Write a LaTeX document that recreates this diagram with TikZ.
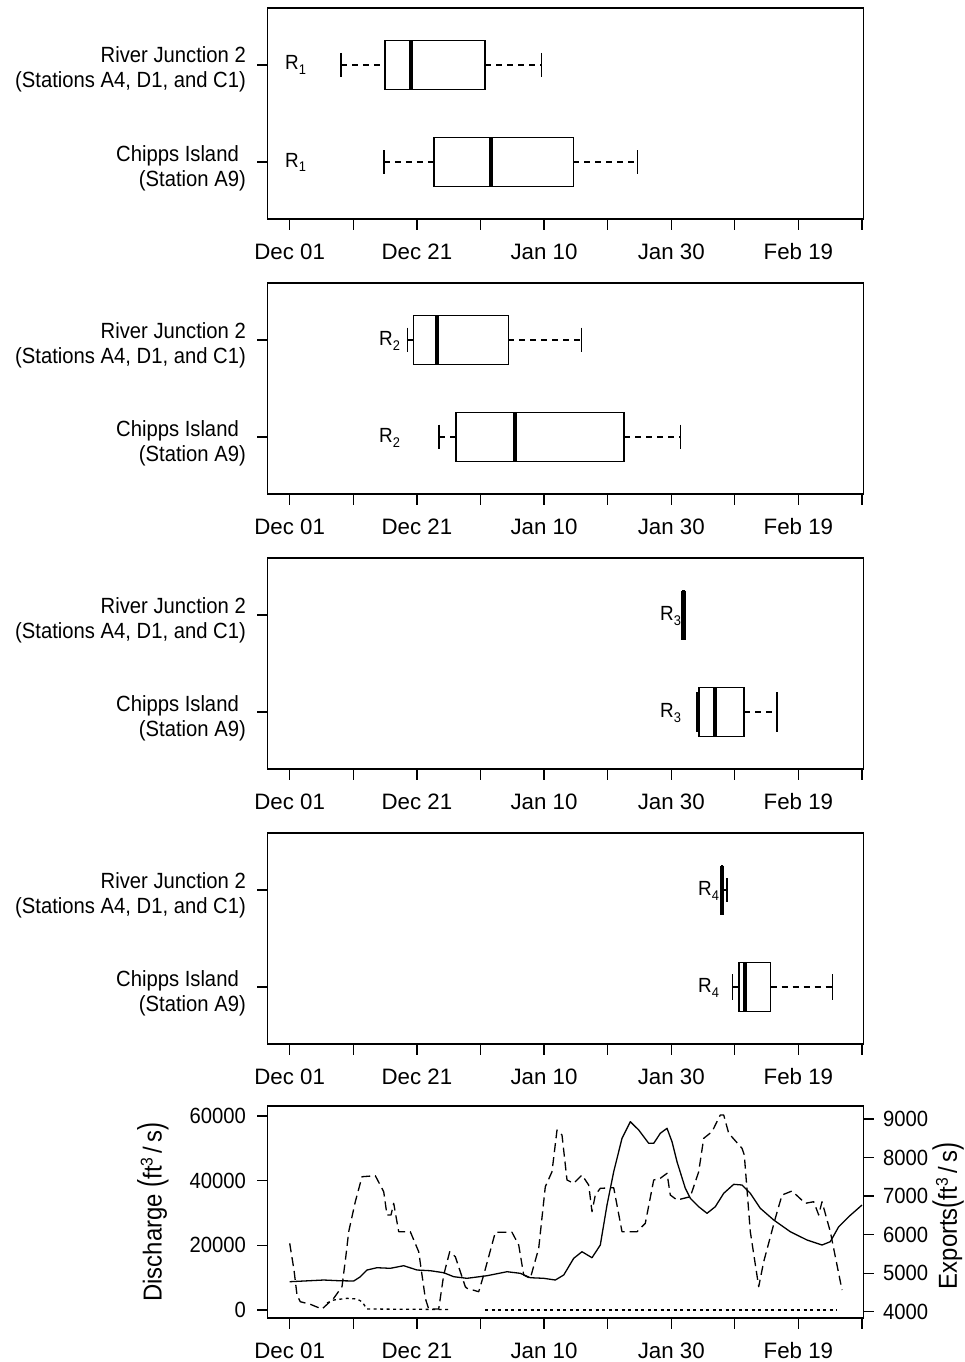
\documentclass[tikz,border=0pt]{standalone}
\usepackage{fontspec}
\setmainfont{Liberation Sans}[FakeStretch=0.92]
\newfontfamily\tickfam{Liberation Sans}
\newcommand\fsz{\fontsize{22}{26}\selectfont}
\newcommand\xtfsz{\tickfam\fontsize{22.3}{26}\selectfont}
\newcommand\labfsz{\fontsize{26}{30}\selectfont}
\newcommand\myboxplot[7]{%
  \draw[whisk] (#2,#1) -- (#3,#1);
  \draw[whisk] (#5,#1) -- (#6,#1);
  \draw[bline] (#2,#1-#7) -- (#2,#1+#7);
  \draw[bline] (#6,#1-#7) -- (#6,#1+#7);
  \draw[bline] (#3,#1-24.5) rectangle (#5,#1+24.5);
  \draw[medline] (#4,#1-24.5) -- (#4,#1+24.5);
}
\begin{document}
\begin{tikzpicture}[x=1pt,y=-1pt,
  every node/.style={inner sep=0pt,font=\fsz},
  xtick/.style={anchor=base,font=\xtfsz},
  frame/.style={line width=1.4pt},
  tickline/.style={line width=1.3pt},
  bline/.style={line width=1.4pt},
  medline/.style={line width=4.5pt},
  whisk/.style={line width=1.3pt,dash pattern=on 6pt off 5pt},
  solidcurve/.style={line width=1.3pt,line join=round},
  dashcurve/.style={line width=1.3pt,dash pattern=on 9pt off 5pt,line join=round},
  dotcurve/.style={line width=1.3pt,dash pattern=on 3pt off 3.5pt},
  rlab/.style={anchor=base west,font=\fontsize{20.5}{24}\selectfont}]
\useasboundingbox (0,0) rectangle (964,1362);
\fill[white] (0,0) rectangle (964,1362);

% ---- four box-plot panels ----
\foreach \t/\rx [count=\i] in {8/285,283/379,558/660,833/698}{
  \draw[frame] (267.5,\t) rectangle (863.5,\t+211);
  \foreach \d in {0,10,...,90}
    \draw[tickline] (289.7+6.359*\d,\t+211) -- (289.7+6.359*\d,\t+222);
  \foreach \d/\l in {0/Dec 01,20/Dec 21,40/Jan 10,60/Jan 30,80/Feb 19}
    \node[xtick] (xl-\i-\d) at (289.7+6.359*\d,\t+251) {\l};
  \draw[tickline] (257,\t+57) -- (267.5,\t+57);
  \draw[tickline] (257,\t+154) -- (267.5,\t+154);
  \node[anchor=base east] (rja-\i) at (246,\t+55) {River Junction 2};
  \node[anchor=base east] (rjb-\i) at (246,\t+80) {(Stations A4, D1, and C1)};
  \node[anchor=base east] (cia-\i) at (239,\t+153) {Chipps Island};
  \node[anchor=base east] (cib-\i) at (246,\t+178) {(Station A9)};
  \node[rlab] (ra-\i) at (\rx,\t+62) {R\raisebox{-5pt}{\fontsize{14}{14}\selectfont\i}};
  \node[rlab] (rb-\i) at (\rx,\t+159) {R\raisebox{-5pt}{\fontsize{14}{14}\selectfont\i}};
}

% panel 1
\myboxplot{65}{340.9}{385}{410.8}{485}{541.4}{12}
\myboxplot{162}{383.8}{434.1}{491.1}{573.3}{637.6}{12}
% panel 2
\myboxplot{340}{407.7}{413.3}{437}{508.3}{581.7}{12.3}
\myboxplot{437}{439}{456}{515}{624}{680.7}{12.3}
% panel 3
\myboxplot{615}{683}{683}{683.5}{684}{685.5}{12}
\myboxplot{712}{697}{699}{715}{744}{777}{20}
% panel 4
\myboxplot{890}{721.5}{721.5}{722}{722.5}{727}{12}
\myboxplot{987}{732.7}{739}{745}{770.7}{832.3}{13}

% ---- bottom panel ----
\draw[frame] (267.5,1106) rectangle (863.5,1318);
\foreach \d in {0,10,...,90}
  \draw[tickline] (289.7+6.359*\d,1318) -- (289.7+6.359*\d,1329);
\foreach \d/\l in {0/Dec 01,20/Dec 21,40/Jan 10,60/Jan 30,80/Feb 19}
  \node[xtick] (xl-5-\d) at (289.7+6.359*\d,1358) {\l};
\foreach \v/\vl [count=\k] in {0/0,20/20000,40/40000,60/60000}{
  \draw[tickline] (257,1310-3.2333*\v) -- (267.5,1310-3.2333*\v);
  \node[anchor=east] (yl-\k) at (246,1310-3.2333*\v) {\vl};
}
\foreach \v/\vl [count=\k] in {0/4000,1/5000,2/6000,3/7000,4/8000,5/9000}{
  \draw[tickline] (863.5,1311.7-38.53*\v) -- (874,1311.7-38.53*\v);
  \node[anchor=west] (yr-\k) at (883,1311.7-38.53*\v) {\vl};
}
\node[rotate=90,font=\labfsz] (ylabL) at (153,1212)
  {Discharge \scalebox{1}[1.3]{(}ft\raisebox{9pt}{\fontsize{17}{17}\selectfont 3}\,/\,s\scalebox{1}[1.3]{)}};
\node[rotate=90,font=\labfsz] (ylabR) at (948,1216)
  {Exports\scalebox{1}[1.3]{(}ft\raisebox{9pt}{\fontsize{17}{17}\selectfont 3}\,/\,s\scalebox{1}[1.3]{)}};

% solid curve
\draw[solidcurve] (289.7,1281.7) -- (323.7,1280) -- (338.7,1280.7) -- (353.7,1281) -- (360,1277) -- (367,1270) -- (377,1267.7) -- (390.3,1268.3) -- (403.7,1265.7) -- (417,1270) -- (430.3,1270.7) -- (443.7,1272.7) -- (453.7,1276.7) -- (467,1278.3) -- (487,1275.7) -- (507,1271.7) -- (520.3,1273.3) -- (530.3,1277.7) -- (543.7,1278.3) -- (555.3,1280) -- (563.7,1275) -- (573.7,1258.3) -- (582,1251.7) -- (592,1257.7) -- (600.3,1245) -- (607,1205) -- (613.7,1171.7) -- (622,1138.3) -- (630.3,1121.7) -- (638.7,1130) -- (648.7,1143.3) -- (653.7,1143.3) -- (660.3,1133.3) -- (667,1128.3) -- (672,1141.7) -- (677,1161.7) -- (685.3,1188.3) -- (690.3,1198.3) -- (698.7,1206.7) -- (707,1213.3) -- (715.3,1206.7) -- (723.7,1193.3) -- (733.7,1184.3) -- (742,1185) -- (750.3,1193.3) -- (760.3,1208.3) -- (773.7,1220) -- (790.3,1231.7) -- (807,1240) -- (822,1245) -- (830.3,1241.7) -- (838.7,1226.7) -- (848.7,1216.7) -- (862,1205);

% dashed curve
\draw[dashcurve] (289.7,1243.3) -- (294,1270) -- (297,1295) -- (300.3,1301.7) -- (310.3,1304.3) -- (322,1309) -- (333.7,1298.3) -- (342,1286.7) -- (346,1255) -- (348.7,1231.7) -- (355.3,1201.7) -- (362,1176.7) -- (375.3,1175.7) -- (383.7,1191.7) -- (387,1215) -- (391,1215) -- (393.7,1203.3) -- (398.7,1231.7) -- (410.3,1231.7) -- (418.7,1251.7) -- (425.3,1298.3) -- (428.7,1309) -- (438.7,1309) -- (443.7,1275) -- (449.7,1251.7) -- (455.3,1256.7) -- (465.3,1286.7) -- (467,1288.3) -- (478.7,1291.7) -- (483.7,1275) -- (495.3,1232.3) -- (512,1232.3) -- (518.7,1245) -- (523.7,1275) -- (530.3,1278.3) -- (538.7,1248.3) -- (545.3,1186.7) -- (552,1171.7) -- (557,1130) -- (562,1135) -- (567,1180) -- (573.7,1183.3) -- (582,1175) -- (588.7,1185) -- (592,1211.7) -- (595.3,1195) -- (600.3,1188.3) -- (613.7,1187.7) -- (622,1231.7) -- (637,1231.7) -- (645.3,1223.3) -- (653.7,1180) -- (660.3,1178.3) -- (667,1173.3) -- (670.3,1195) -- (677,1200) -- (690.3,1196.7) -- (698.7,1171.7) -- (703.7,1138.3) -- (712,1131.7) -- (720.3,1115) -- (723.7,1115) -- (728.7,1133.3) -- (742,1148.3) -- (744.3,1155) -- (750.3,1231.7) -- (758.7,1286.7) -- (763.7,1261.7) -- (775.3,1218.3) -- (782,1195) -- (792,1191) -- (805.3,1203.3) -- (813.7,1201.7) -- (818.7,1215) -- (822,1201.7) -- (830.3,1231.7) -- (842,1290);

% dotted curve
\draw[dotcurve] (327,1303) -- (333.7,1300) -- (347,1298.3) -- (357,1299) -- (362,1301.7) -- (367,1309) -- (450.3,1309.5);
\draw[dotcurve] (485,1310) -- (837,1310);
\end{tikzpicture}
\end{document}
